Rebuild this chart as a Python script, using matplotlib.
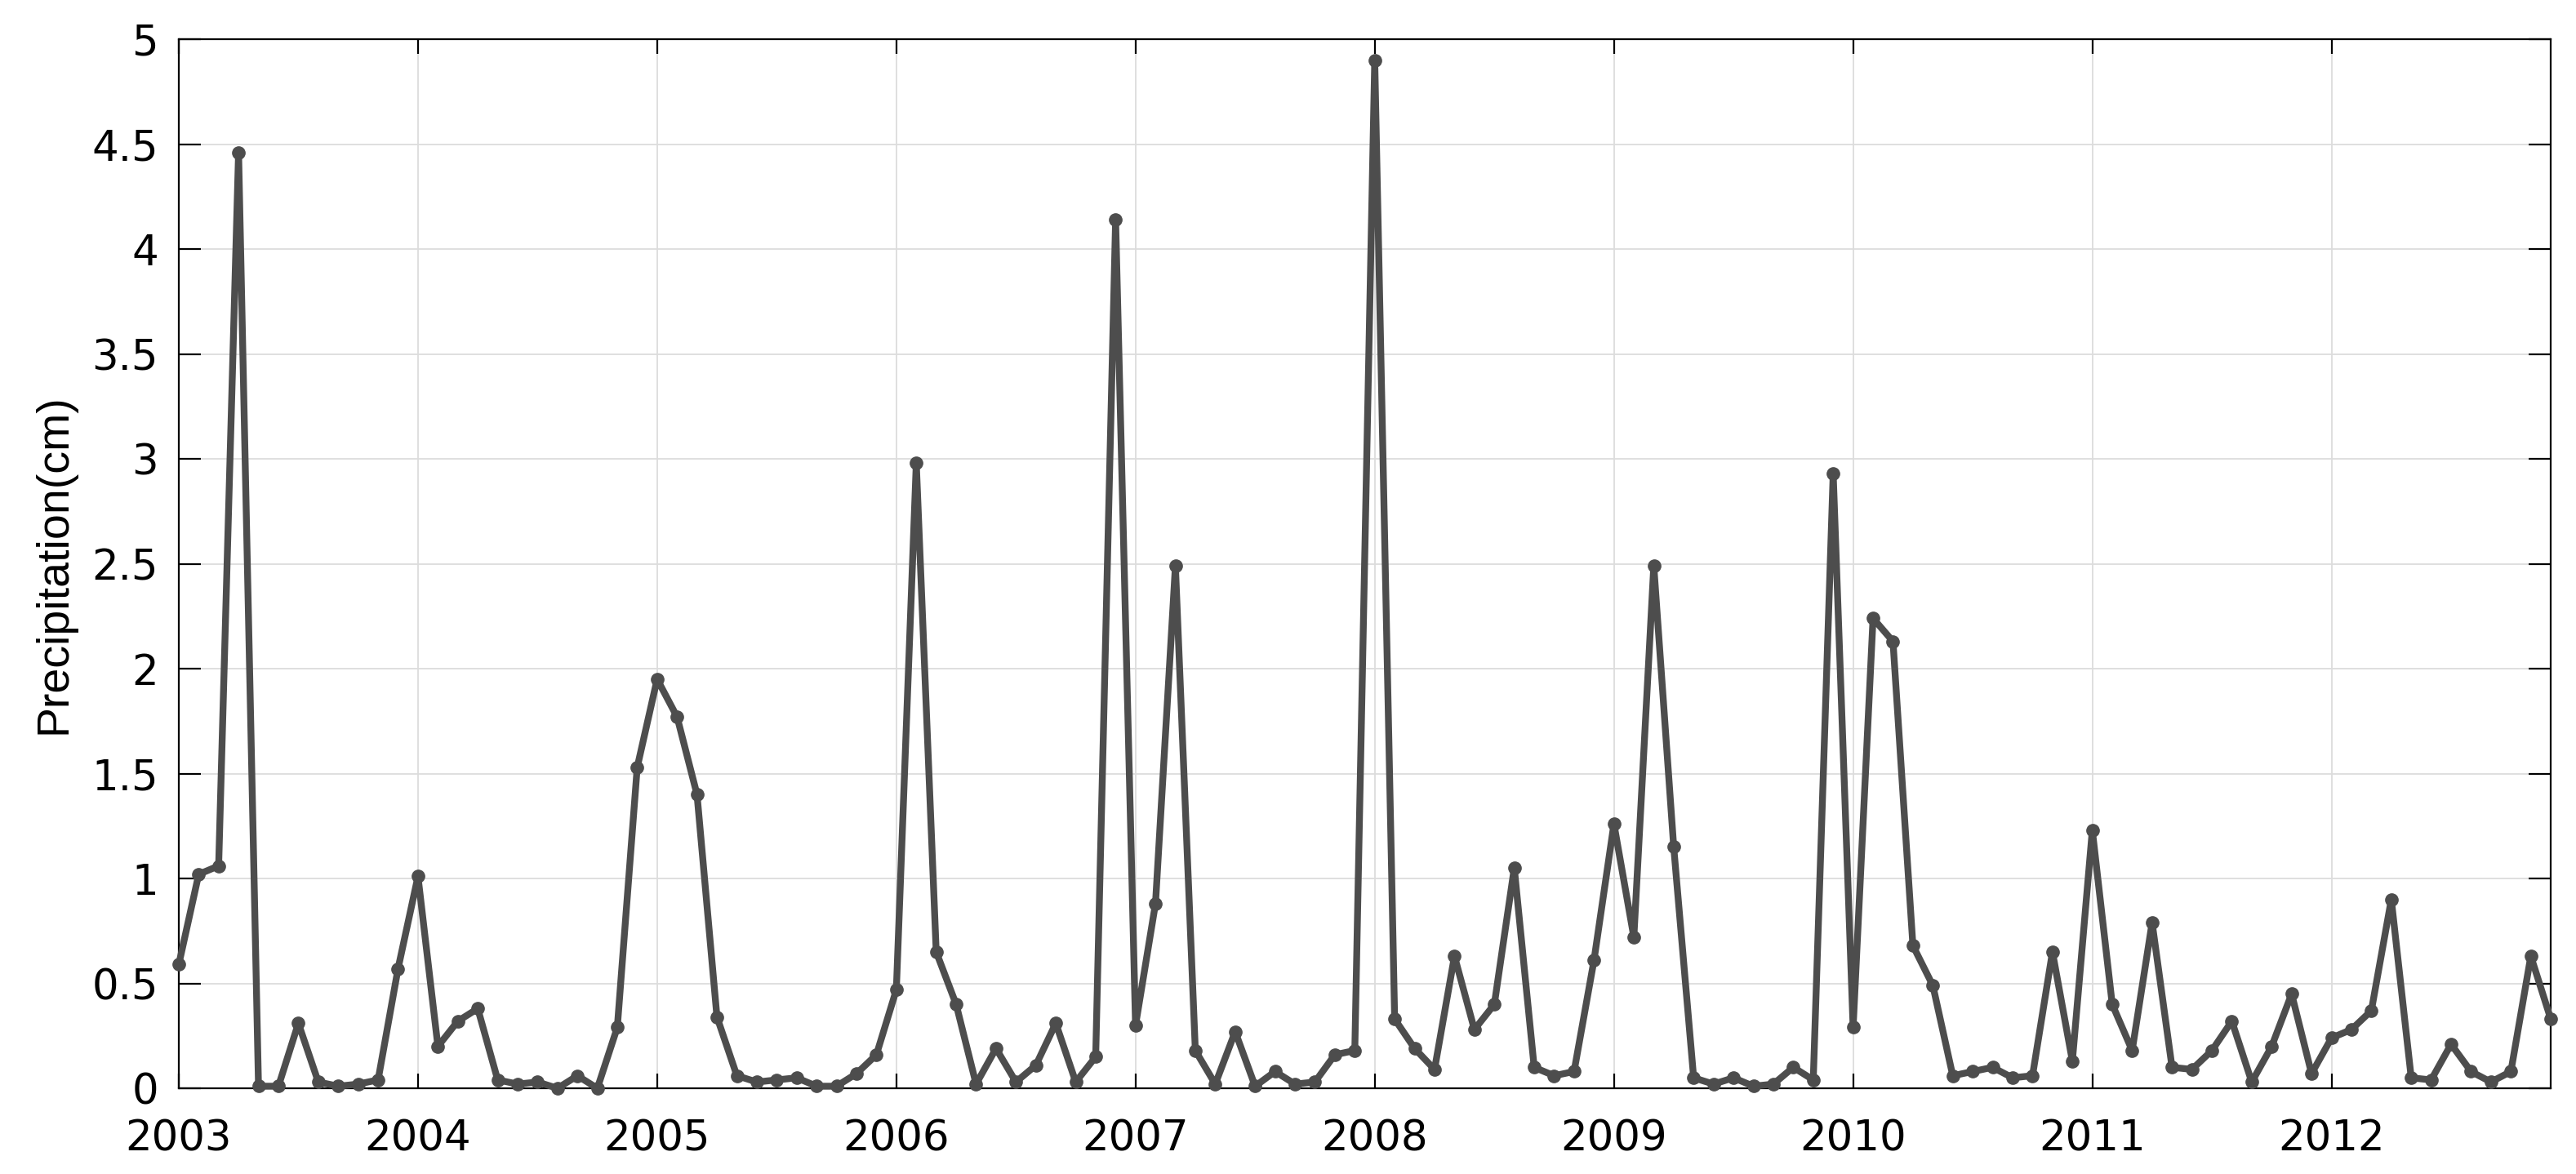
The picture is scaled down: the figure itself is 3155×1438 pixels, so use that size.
import matplotlib
matplotlib.use("Agg")
import matplotlib.pyplot as plt
from matplotlib import font_manager
import numpy as np

# ---- data (monthly precipitation, Jan 2003 .. Dec 2012) ----
start_year = 2003
years = list(range(2003, 2013))
precip_2003 = [0.59, 1.02, 1.06, 4.46, 0.01, 0.01, 0.31, 0.03, 0.01, 0.02, 0.04, 0.57]
precip_2004 = [1.01, 0.20, 0.32, 0.38, 0.04, 0.02, 0.03, 0.00, 0.06, 0.00, 0.29, 1.53]
precip_2005 = [1.95, 1.77, 1.40, 0.34, 0.06, 0.03, 0.04, 0.05, 0.01, 0.01, 0.07, 0.16]
precip_2006 = [0.47, 2.98, 0.65, 0.40, 0.02, 0.19, 0.03, 0.11, 0.31, 0.03, 0.15, 4.14]
precip_2007 = [0.30, 0.88, 2.49, 0.18, 0.02, 0.27, 0.01, 0.08, 0.02, 0.03, 0.16, 0.18]
precip_2008 = [4.90, 0.33, 0.19, 0.09, 0.63, 0.28, 0.40, 1.05, 0.10, 0.06, 0.08, 0.61]
precip_2009 = [1.26, 0.72, 2.49, 1.15, 0.05, 0.02, 0.05, 0.01, 0.02, 0.10, 0.04, 2.93]
precip_2010 = [0.29, 2.24, 2.13, 0.68, 0.49, 0.06, 0.08, 0.10, 0.05, 0.06, 0.65, 0.13]
precip_2011 = [1.23, 0.40, 0.18, 0.79, 0.10, 0.09, 0.18, 0.32, 0.03, 0.20, 0.45, 0.07]
precip_2012 = [0.24, 0.28, 0.37, 0.90, 0.05, 0.04, 0.21, 0.08, 0.03, 0.08, 0.63, 0.33]
y_ticks = [0, 0.5, 1, 1.5, 2, 2.5, 3, 3.5, 4, 4.5, 5]
y_label = "Precipitation(cm)"

precip = (precip_2003 + precip_2004 + precip_2005 + precip_2006 + precip_2007 +
          precip_2008 + precip_2009 + precip_2010 + precip_2011 + precip_2012)
t = start_year + np.arange(len(precip)) / 12.0

# ---- fonts ----
available = {f.name for f in font_manager.fontManager.ttflist}
if "Liberation Sans Narrow" in available:
    ylabel_font, ylabel_size = "Liberation Sans Narrow", 47
else:
    ylabel_font, ylabel_size = "Liberation Sans", 40
tick_font = "DejaVu Sans"

fig = plt.figure(figsize=(31.55, 14.38), dpi=100)
ax = fig.add_axes([0.0694, 0.0730, 0.9902 - 0.0694, 0.9666 - 0.0730])

line_color = "#4d4d4d"
ax.plot(t, precip, color=line_color, linewidth=6.0, marker="o", markersize=11,
        markerfacecolor=line_color, markeredgecolor=line_color, clip_on=False, zorder=3)

ax.set_xlim(t[0], t[-1])
ax.set_ylim(0, 5)
ax.set_xticks(years)
ax.set_xticklabels([str(y) for y in years], fontfamily=tick_font, fontsize=37)
ax.set_yticks(y_ticks)
ax.set_yticklabels([f"{v:g}" for v in y_ticks], fontfamily=tick_font, fontsize=37)

ax.grid(True, color="#dcdcdc", linewidth=1.3, linestyle="-")
ax.set_axisbelow(True)

for s in ax.spines.values():
    s.set_linewidth(1.6)
    s.set_color("black")

ax.tick_params(axis="both", direction="in", top=True, right=True, width=1.6, colors="black")
ax.tick_params(axis="y", length=19.5, pad=18)
ax.tick_params(axis="x", length=13, pad=27)

ax.set_ylabel(y_label, fontfamily=ylabel_font, fontsize=ylabel_size)
ax.yaxis.set_label_coords(-0.0434, 0.5)

fig.savefig("out.png", dpi=100, facecolor="white")
